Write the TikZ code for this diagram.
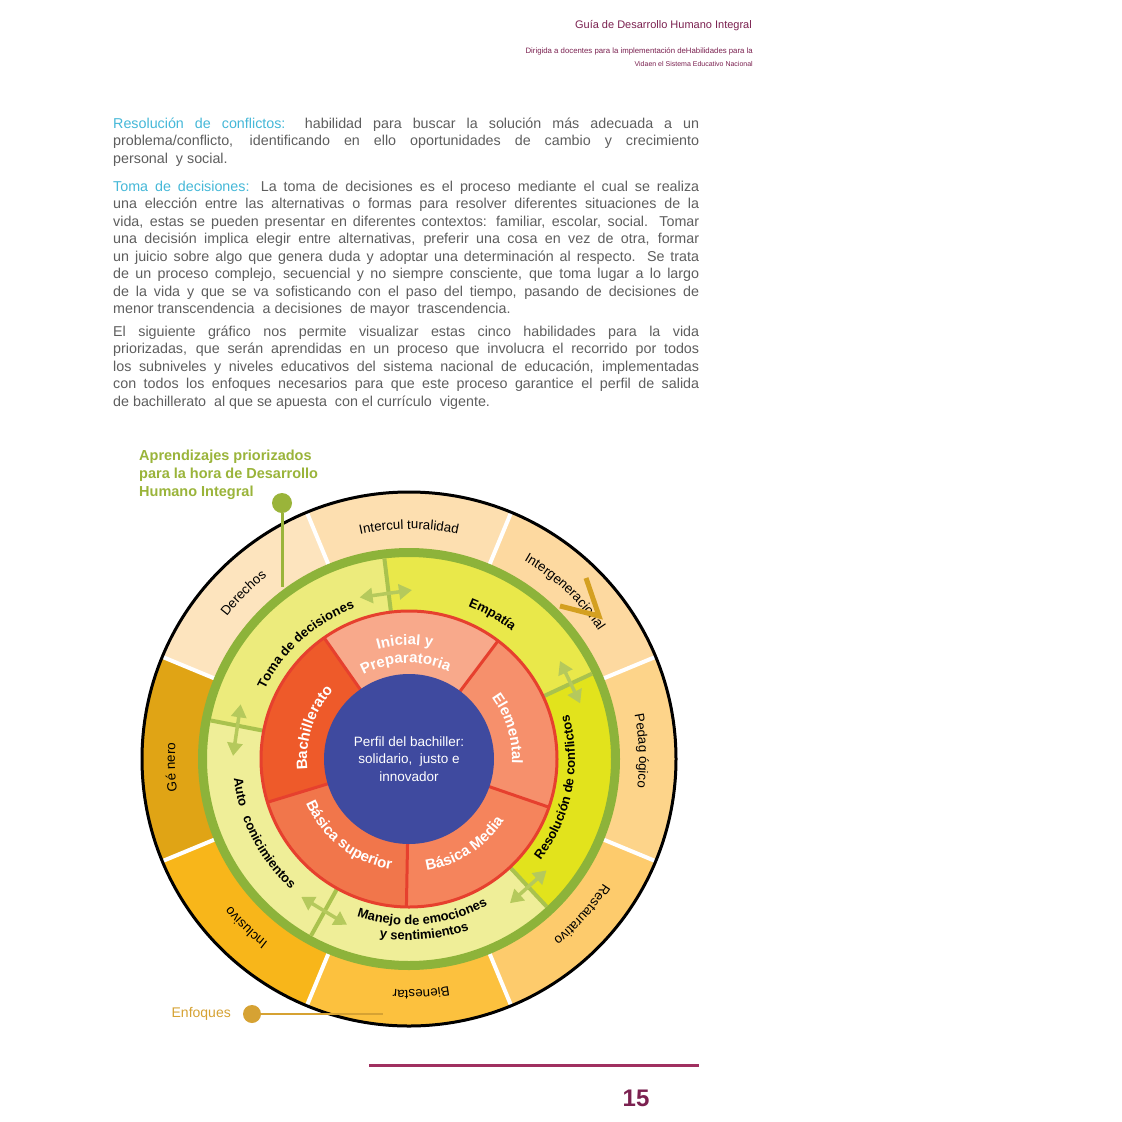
\documentclass[tikz,border=0pt]{standalone}
\usepackage{fontspec}
\setmainfont{Liberation Sans}
\usepackage{xcolor}
\usepackage{tikz}
\usetikzlibrary{arrows.meta,decorations.text}

\definecolor{guiamaroon}{HTML}{7B2150}
\definecolor{bodygray}{HTML}{5E5E5E}
\definecolor{headcyan}{HTML}{45B8D8}
\definecolor{aprgreen}{HTML}{9AB43A}
\definecolor{ringgreen}{HTML}{8DB33A}
\definecolor{sepgreen}{HTML}{A9C24E}
\definecolor{arrgreen}{HTML}{B5C95C}
\definecolor{enfgold}{HTML}{D6A233}
\definecolor{derechos}{HTML}{FDE4BE}
\definecolor{intercul}{HTML}{FDDFB0}
\definecolor{intergen}{HTML}{FDD9A0}
\definecolor{pedag}{HTML}{FDD48A}
\definecolor{restaur}{HTML}{FDCB6C}
\definecolor{bienestar}{HTML}{FCC13E}
\definecolor{inclusivo}{HTML}{F8B61A}
\definecolor{genero}{HTML}{E0A415}
\definecolor{toma}{HTML}{ECEB7C}
\definecolor{empatia}{HTML}{E9E84A}
\definecolor{resol}{HTML}{E2E31C}
\definecolor{manejo}{HTML}{EFEE98}
\definecolor{autocon}{HTML}{EFEE98}
\definecolor{inicial}{HTML}{F8A98B}
\definecolor{elemental}{HTML}{F6906C}
\definecolor{bmedia}{HTML}{F5845C}
\definecolor{bsuperior}{HTML}{F1764B}
\definecolor{bachi}{HTML}{EE5A2A}
\definecolor{redline}{HTML}{E6402E}
\definecolor{perfilblue}{HTML}{3F4A9F}
\definecolor{footmaroon}{HTML}{A03060}
\definecolor{marcagold}{HTML}{D4A020}

\newcommand{\bodyfont}{\fontsize{14.3}{16}\selectfont}
\newcommand{\enffont}{\fontsize{13.3}{13.3}\selectfont}
\newcommand{\habfont}{\fontsize{13}{13}\selectfont\bfseries}
\newcommand{\nivfont}{\fontsize{15}{15}\selectfont\bfseries\color{white}}

\begin{document}
\begin{tikzpicture}[x=1pt,y=1pt,
  line/.style={anchor=base west,inner sep=0pt,text=bodygray,font=\bodyfont},
  ringtext/.style={decorate,decoration={text along path,text align=center,text={#1}}},
  sep/.style={draw=white,line width=4pt},
  skillsep/.style={draw=sepgreen,line width=4pt},
  redsep/.style={draw=redline,line width=3pt},
  skarrow/.style={draw=arrgreen,line width=3.5pt,{Triangle[length=13pt,width=15pt]}-{Triangle[length=13pt,width=15pt]}}]
\useasboundingbox[fill=white] (0,0) rectangle (1122,-1122);

% header
\node[anchor=base east,inner sep=0pt,text=guiamaroon,font=\fontsize{11}{11}\selectfont] (titulo) at (752,-28) {Guía de Desarrollo Humano Integral};
\node[anchor=base east,inner sep=0pt,text=guiamaroon,font=\fontsize{7.8}{7.8}\selectfont] (sub1) at (753,-53) {Dirigida a docentes para la implementación deHabilidades para la};
\node[anchor=base east,inner sep=0pt,text=guiamaroon,font=\fontsize{7}{7}\selectfont] (sub2) at (753,-66) {Vidaen el Sistema Educativo Nacional};

% text
\node[line] (l1) at (113,-128) {\makebox[586pt][s]{{\color{headcyan}Resolución de conflictos:} habilidad para buscar la solución más adecuada a un}};
\node[line] (l2) at (113,-145.5) {\makebox[586pt][s]{problema/conflicto, identificando en ello oportunidades de cambio y crecimiento}};
\node[line] (l3) at (113,-163) {personal \ y social.};
\node[line] (l4) at (113,-191) {\makebox[586pt][s]{{\color{headcyan}Toma de decisiones:} La toma de decisiones es el proceso mediante el cual se realiza}};
\node[line] (l5) at (113,-208.5) {\makebox[586pt][s]{una elección entre las alternativas o formas para resolver diferentes situaciones de la}};
\node[line] (l6) at (113,-226) {\makebox[586pt][s]{vida, estas se pueden presentar en diferentes contextos: familiar, escolar, social. Tomar}};
\node[line] (l7) at (113,-243.5) {\makebox[586pt][s]{una decisión implica elegir entre alternativas, preferir una cosa en vez de otra, formar}};
\node[line] (l8) at (113,-261) {\makebox[586pt][s]{un juicio sobre algo que genera duda y adoptar una determinación al respecto. Se trata}};
\node[line] (l9) at (113,-278.5) {\makebox[586pt][s]{de un proceso complejo, secuencial y no siempre consciente, que toma lugar a lo largo}};
\node[line] (l10) at (113,-296) {\makebox[586pt][s]{de la vida y que se va sofisticando con el paso del tiempo, pasando de decisiones de}};
\node[line] (l11) at (113,-313.5) {menor transcendencia \ a decisiones \ de mayor \ trascendencia.};
\node[line] (l12) at (113,-336) {\makebox[586pt][s]{El siguiente gráfico nos permite visualizar estas cinco habilidades para la vida}};
\node[line] (l13) at (113,-353.5) {\makebox[586pt][s]{priorizadas, que serán aprendidas en un proceso que involucra el recorrido por todos}};
\node[line] (l14) at (113,-371) {\makebox[586pt][s]{los subniveles y niveles educativos del sistema nacional de educación, implementadas}};
\node[line] (l15) at (113,-388.5) {\makebox[586pt][s]{con todos los enfoques necesarios para que este proceso garantice el perfil de salida}};
\node[line] (l16) at (113,-406) {de bachillerato \ al que se apuesta \ con el currículo \ vigente.};

% labels
\node[anchor=base west,inner sep=0pt,align=left,text=aprgreen,font=\fontsize{14.5}{18}\selectfont\bfseries] (aprend) at (139,-496) {Aprendizajes priorizados\\para la hora de Desarrollo\\Humano Integral};

\begin{scope}[shift={(409,-759)}]
% enfoques
\fill[derechos] (0,0) -- (112.5:267) arc[start angle=112.5,end angle=157.5,radius=267] -- cycle;
\fill[intercul] (0,0) -- (67.5:267) arc[start angle=67.5,end angle=112.5,radius=267] -- cycle;
\fill[intergen] (0,0) -- (22.5:267) arc[start angle=22.5,end angle=67.5,radius=267] -- cycle;
\fill[pedag] (0,0) -- (-22.5:267) arc[start angle=-22.5,end angle=22.5,radius=267] -- cycle;
\fill[restaur] (0,0) -- (-67.5:267) arc[start angle=-67.5,end angle=-22.5,radius=267] -- cycle;
\fill[bienestar] (0,0) -- (-112.5:267) arc[start angle=-112.5,end angle=-67.5,radius=267] -- cycle;
\fill[inclusivo] (0,0) -- (-157.5:267) arc[start angle=-157.5,end angle=-112.5,radius=267] -- cycle;
\fill[genero] (0,0) -- (157.5:267) arc[start angle=157.5,end angle=202.5,radius=267] -- cycle;
\draw[sep] (22.5:205) -- (22.5:267);
\draw[sep] (67.5:205) -- (67.5:267);
\draw[sep] (112.5:205) -- (112.5:267);
\draw[sep] (157.5:205) -- (157.5:267);
\draw[sep] (202.5:205) -- (202.5:267);
\draw[sep] (247.5:205) -- (247.5:267);
\draw[sep] (292.5:205) -- (292.5:267);
\draw[sep] (337.5:205) -- (337.5:267);
\draw[black,line width=3pt] (0,0) circle (267);

% habilidades
\fill[toma] (0,0) -- (97:206) arc[start angle=97,end angle=169,radius=206] -- cycle;
\fill[empatia] (0,0) -- (25:206) arc[start angle=25,end angle=97,radius=206] -- cycle;
\fill[resol] (0,0) -- (-47:206) arc[start angle=-47,end angle=25,radius=206] -- cycle;
\fill[manejo] (0,0) -- (-119:206) arc[start angle=-119,end angle=-47,radius=206] -- cycle;
\fill[autocon] (0,0) -- (169:206) arc[start angle=169,end angle=241,radius=206] -- cycle;
\draw[ringgreen,line width=9pt] (0,0) circle (206.5);
\draw[skillsep] (25:146) -- (25:202);
\draw[skillsep] (97:146) -- (97:202);
\draw[skillsep] (169:146) -- (169:202);
\draw[skillsep] (241:146) -- (241:202);
\draw[skillsep] (313:146) -- (313:202);

% niveles
\fill[inicial] (0,0) -- (53:148) arc[start angle=53,end angle=125,radius=148] -- cycle;
\fill[elemental] (0,0) -- (-19:148) arc[start angle=-19,end angle=53,radius=148] -- cycle;
\fill[bmedia] (0,0) -- (-91:148) arc[start angle=-91,end angle=-19,radius=148] -- cycle;
\fill[bsuperior] (0,0) -- (-163:148) arc[start angle=-163,end angle=-91,radius=148] -- cycle;
\fill[bachi] (0,0) -- (125:148) arc[start angle=125,end angle=197,radius=148] -- cycle;
\draw[redsep] (53:80) -- (53:148);
\draw[redsep] (125:80) -- (125:148);
\draw[redsep] (197:80) -- (197:148);
\draw[redsep] (269:80) -- (269:148);
\draw[redsep] (341:80) -- (341:148);
\draw[redline,line width=3pt] (0,0) circle (148);
\fill[perfilblue] (0,0) circle (85);
\node[align=center,text=white,font=\fontsize{13.5}{17.5}\selectfont] (perfil) at (0,0) {Perfil del bachiller:\\solidario, \ justo e\\innovador};

% flechas
\coordinate (a1s) at (107:169);
\coordinate (a1e) at (89:169);
\coordinate (a2s) at (162:177);
\coordinate (a2e) at (179:176);
\coordinate (a3s) at (33:180);
\coordinate (a3e) at (18:180);
\coordinate (a4s) at (-39:177);
\coordinate (a4e) at (-55:176);
\coordinate (a5s) at (-128:175);
\coordinate (a5e) at (-110.5:177);
\draw[skarrow] (a1s) -- (a1e);
\draw[skarrow] (a2s) -- (a2e);
\draw[skarrow] (a3s) -- (a3e);
\draw[skarrow] (a4s) -- (a4e);
\draw[skarrow] (a5s) -- (a5e);

% textos enfoques
\path[ringtext={|\enffont|Derechos}] (185:231) arc[start angle=185,end angle=85,radius=231];
\path[ringtext={|\enffont|Intercul turalidad}] (140:230) arc[start angle=140,end angle=40,radius=230];
\path[ringtext={|\enffont|Intergeneracional}] (97:229) arc[start angle=97,end angle=-3,radius=229];
\path[ringtext={|\enffont|Pedag ógico}] (52:230) arc[start angle=52,end angle=-48,radius=230];
\path[ringtext={|\enffont|Restaurativo}] (8:231) arc[start angle=8,end angle=-92,radius=231];
\path[ringtext={|\enffont|Bienestar}] (-37:231) arc[start angle=-37,end angle=-137,radius=231];
\path[ringtext={|\enffont|Inclusivo}] (-84:231) arc[start angle=-84,end angle=-184,radius=231];
\path[ringtext={|\enffont|Gé nero}] (232:234) arc[start angle=232,end angle=132,radius=234];

% textos habilidades
\path[ringtext={|\habfont|Toma de decisiones}] (182:160) arc[start angle=182,end angle=82,radius=160];
\path[ringtext={|\habfont|Empatía}] (110:164) arc[start angle=110,end angle=10,radius=164];
\path[ringtext={|\habfont|Resolución de conflictos}] (-61:166) arc[start angle=-61,end angle=39,radius=166];
\path[ringtext={|\habfont|Manejo de emociones}] (-135:166) arc[start angle=-135,end angle=-35,radius=166];
\path[ringtext={|\habfont|y sentimientos}] (-135:181) arc[start angle=-135,end angle=-35,radius=181];
\path[ringtext={|\habfont|Auto \ \ conicimientos}] (157:176) arc[start angle=157,end angle=257,radius=176];

% textos niveles
\path[ringtext={|\nivfont|Inicial y}] (142:114) arc[start angle=142,end angle=42,radius=114];
\path[ringtext={|\nivfont|Preparatoria}] (142:96) arc[start angle=142,end angle=42,radius=96];
\path[ringtext={|\nivfont|Elemental}] (67:103) arc[start angle=67,end angle=-33,radius=103];
\path[ringtext={|\nivfont|Básica Media}] (-107:113) arc[start angle=-107,end angle=-7,radius=113];
\path[ringtext={|\nivfont|Básica superior}] (-178:112) arc[start angle=-178,end angle=-78,radius=112];
\path[ringtext={|\nivfont|Bachillerato}] (212:102) arc[start angle=212,end angle=112,radius=102];
\end{scope}

% marca intergeneracional
\draw[marcagold,line width=5pt,line join=miter] (560,-606) -- (599,-616) -- (586,-578);

% pines
\node[circle,fill=aprgreen,minimum size=20pt,inner sep=0pt] (pinapr) at (282,-503) {};
\coordinate (pinaprend) at (282,-587);
\draw[aprgreen,line width=3pt] (pinapr) -- (pinaprend);
\node[circle,fill=enfgold,minimum size=18pt,inner sep=0pt] (pinenf) at (252,-1014) {};
\coordinate (pinenfend) at (383,-1014);
\draw[enfgold,line width=2.5pt] (pinenf) -- (pinenfend);
\node[anchor=east,inner sep=0pt,text=enfgold,font=\fontsize{14}{14}\selectfont] (enfoques) at (231,-1014) {Enfoques};

% pie
\coordinate (pie1) at (369,-1065);
\coordinate (pie2) at (699,-1065);
\draw[footmaroon,line width=3pt] (pie1) -- (pie2);
\node[text=guiamaroon,font=\fontsize{24}{24}\selectfont\bfseries] (pagina) at (636,-1098) {15};
\end{tikzpicture}
\end{document}
